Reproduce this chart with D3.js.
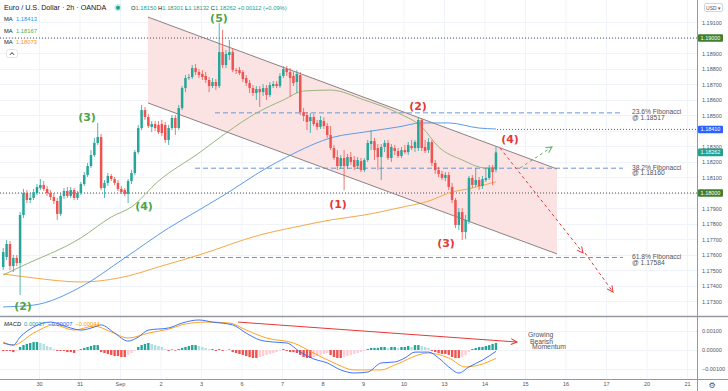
<!DOCTYPE html>
<html><head><meta charset="utf-8">
<script src="https://cdn.jsdelivr.net/npm/d3@7/dist/d3.min.js"></script>
<style>
body{margin:0;background:#fff;}
svg{display:block;font-family:"Liberation Sans",Arial,sans-serif;}
</style>
</head><body>
<svg id="chart" width="728" height="391"></svg>
<script>
// ---------------- DATA ----------------
const dayTicks  = [0,1,2,3,4,5,6,7,8,9,10,11,12,13,14,15,16];
const dayLabels = ["30","31","Sep","2","3","6","7","8","9","10","13","14","15","16","17","20","21"];
const firstBarDay = -0.8833, barsPerDay = 12;

const opens = [1.17523,1.17587,1.17671,1.17529,1.17581,1.17548,1.17858,1.18000,1.17955,1.17968,1.18000,1.18032,1.18052,1.18026,1.18000,1.17974,1.17948,1.17865,1.17981,1.18013,1.17981,1.18019,1.17968,1.18000,1.18058,1.18116,1.18174,1.18245,1.18323,1.18361,1.18032,1.18065,1.18110,1.18090,1.18065,1.18026,1.18019,1.17994,1.18077,1.18129,1.18264,1.18419,1.18535,1.18490,1.18426,1.18445,1.18439,1.18445,1.18439,1.18342,1.18419,1.18484,1.18419,1.18548,1.18677,1.18742,1.18748,1.18806,1.18780,1.18768,1.18755,1.18729,1.18690,1.18716,1.18690,1.18909,1.18826,1.18890,1.18909,1.18793,1.18793,1.18780,1.18742,1.18710,1.18677,1.18645,1.18671,1.18651,1.18677,1.18632,1.18690,1.18703,1.18690,1.18755,1.18800,1.18780,1.18755,1.18716,1.18761,1.18522,1.18503,1.18464,1.18490,1.18452,1.18426,1.18464,1.18432,1.18374,1.18290,1.18232,1.18174,1.18226,1.18174,1.18232,1.18213,1.18174,1.18206,1.18148,1.18213,1.18316,1.18335,1.18290,1.18232,1.18297,1.18323,1.18226,1.18290,1.18271,1.18239,1.18277,1.18264,1.18303,1.18290,1.18290,1.18471,1.18297,1.18277,1.18329,1.18194,1.18148,1.18123,1.18097,1.18116,1.18039,1.17955,1.17794,1.17877,1.17748,1.17819,1.18097,1.18052,1.18084,1.18045,1.18084,1.18097,1.18161,1.18150];
const highs = [1.17645,1.17697,1.17690,1.17600,1.17600,1.17877,1.18026,1.18019,1.18000,1.18026,1.18058,1.18090,1.18077,1.18045,1.18019,1.18000,1.17968,1.18000,1.18032,1.18039,1.18039,1.18032,1.18013,1.18071,1.18135,1.18194,1.18277,1.18355,1.18452,1.18381,1.18084,1.18129,1.18123,1.18103,1.18084,1.18045,1.18032,1.18090,1.18148,1.18277,1.18439,1.18568,1.18555,1.18510,1.18464,1.18464,1.18464,1.18471,1.18458,1.18439,1.18503,1.18503,1.18568,1.18690,1.18761,1.18768,1.18826,1.18832,1.18800,1.18793,1.18780,1.18748,1.18742,1.18735,1.19097,1.19051,1.18922,1.18987,1.18935,1.18806,1.18813,1.18793,1.18761,1.18729,1.18697,1.18690,1.18690,1.18703,1.18697,1.18716,1.18722,1.18722,1.18774,1.18819,1.18819,1.18806,1.18780,1.18793,1.18780,1.18548,1.18522,1.18516,1.18510,1.18471,1.18497,1.18490,1.18452,1.18432,1.18310,1.18277,1.18245,1.18277,1.18252,1.18264,1.18239,1.18232,1.18226,1.18226,1.18342,1.18406,1.18355,1.18316,1.18316,1.18342,1.18342,1.18316,1.18310,1.18290,1.18297,1.18310,1.18329,1.18342,1.18342,1.18490,1.18484,1.18342,1.18355,1.18342,1.18213,1.18168,1.18142,1.18135,1.18135,1.18065,1.17968,1.17903,1.17903,1.17858,1.18110,1.18116,1.18161,1.18103,1.18110,1.18161,1.18181,1.18181,1.18301];
const lows = [1.17503,1.17568,1.17503,1.17490,1.17529,1.17342,1.17839,1.17935,1.17935,1.17955,1.17987,1.18019,1.18013,1.17981,1.17955,1.17929,1.17826,1.17852,1.17961,1.17968,1.17968,1.17955,1.17955,1.17987,1.18045,1.18103,1.18161,1.18232,1.18310,1.18019,1.17968,1.18045,1.18077,1.18052,1.18013,1.17994,1.17981,1.17935,1.18058,1.18116,1.18252,1.18406,1.18471,1.18419,1.18393,1.18400,1.18381,1.18368,1.18323,1.18310,1.18406,1.18374,1.18406,1.18535,1.18651,1.18729,1.18735,1.18761,1.18742,1.18729,1.18710,1.18651,1.18677,1.18664,1.18677,1.18806,1.18806,1.18858,1.18780,1.18768,1.18761,1.18716,1.18690,1.18645,1.18626,1.18600,1.18555,1.18626,1.18600,1.18619,1.18677,1.18677,1.18677,1.18742,1.18755,1.18619,1.18690,1.18645,1.18503,1.18464,1.18406,1.18387,1.18432,1.18406,1.18413,1.18413,1.18355,1.18277,1.18213,1.18148,1.18155,1.18019,1.18155,1.18181,1.18148,1.18155,1.18135,1.18135,1.18200,1.18277,1.18213,1.18148,1.18084,1.18264,1.18213,1.18200,1.18245,1.18226,1.18226,1.18252,1.18245,1.18277,1.18264,1.18271,1.18271,1.18258,1.18258,1.18174,1.18123,1.18103,1.18084,1.18077,1.18019,1.17935,1.17774,1.17761,1.17697,1.17703,1.17800,1.18032,1.18039,1.18019,1.18026,1.18071,1.18084,1.18052,1.18132];
const closes = [1.17619,1.17671,1.17529,1.17581,1.17548,1.17858,1.18000,1.17955,1.17968,1.18006,1.18039,1.18052,1.18026,1.18000,1.17974,1.17948,1.17865,1.17981,1.18013,1.17981,1.18019,1.17968,1.18000,1.18058,1.18116,1.18174,1.18245,1.18323,1.18361,1.18032,1.18065,1.18110,1.18090,1.18065,1.18026,1.18006,1.17994,1.18077,1.18129,1.18264,1.18419,1.18535,1.18490,1.18432,1.18445,1.18419,1.18393,1.18387,1.18342,1.18419,1.18484,1.18419,1.18548,1.18677,1.18742,1.18748,1.18806,1.18780,1.18761,1.18748,1.18729,1.18690,1.18716,1.18690,1.18909,1.18826,1.18897,1.18909,1.18793,1.18787,1.18774,1.18735,1.18710,1.18677,1.18645,1.18671,1.18651,1.18677,1.18632,1.18697,1.18703,1.18690,1.18755,1.18800,1.18780,1.18742,1.18710,1.18768,1.18522,1.18497,1.18458,1.18490,1.18445,1.18426,1.18471,1.18432,1.18374,1.18290,1.18226,1.18174,1.18226,1.18174,1.18232,1.18200,1.18168,1.18213,1.18148,1.18213,1.18323,1.18335,1.18277,1.18232,1.18297,1.18323,1.18226,1.18297,1.18271,1.18239,1.18277,1.18264,1.18310,1.18290,1.18329,1.18471,1.18290,1.18271,1.18329,1.18194,1.18148,1.18123,1.18097,1.18116,1.18039,1.17955,1.17794,1.17877,1.17748,1.17826,1.18097,1.18052,1.18084,1.18045,1.18090,1.18097,1.18161,1.18135,1.18262];

// moving averages: [bar index, price]
const maBlue   = [[0,1.17265],[9,1.17277],[23,1.17394],[36,1.17581],[49,1.17774],[58,1.17890],[65,1.17981],[78,1.18161],[84,1.18232],[98,1.18361],[107,1.18393],[117,1.18426],[124,1.18452],[132,1.18452],[141,1.18419],[146,1.18413]];
const maGreen  = [[0,1.17471],[5,1.17523],[23,1.17710],[32,1.17845],[38,1.17910],[46,1.18077],[58,1.18258],[66,1.18387],[75,1.18516],[83,1.18600],[89,1.18658],[97,1.18664],[107,1.18600],[117,1.18516],[124,1.18426],[129,1.18297],[136,1.18213],[143,1.18161],[146,1.18167]];
const maOrange = [[0,1.17478],[9,1.17452],[23,1.17426],[37,1.17465],[46,1.17523],[58,1.17600],[76,1.17729],[88,1.17787],[97,1.17826],[107,1.17858],[117,1.17903],[127,1.17955],[132,1.18000],[139,1.18032],[146,1.18073]];

// MACD
const macdHist = [-0.00005,-0.00005,-0.00005,-0.00011,-0.00005,0.00016,0.00026,0.00032,0.00037,0.00042,0.00042,0.00037,0.00032,0.00021,0.00016,0.00005,-0.00005,-0.00005,-0.00005,-0.00011,-0.00011,-0.00016,-0.00005,0.00005,0.00011,0.00016,0.00021,0.00026,0.00026,-0.00011,-0.00016,-0.00021,-0.00026,-0.00032,-0.00032,-0.00037,-0.00037,-0.00026,-0.00016,-0.00005,0.00016,0.00026,0.00032,0.00037,0.00032,0.00026,0.00021,0.00016,0.00005,-0.00005,0.00003,-0.00003,0.00005,0.00011,0.00016,0.00021,0.00026,0.00026,0.00021,0.00016,0.00011,0.00005,0.00005,-0.00005,0.00005,-0.00005,-0.00003,0.00003,-0.00011,-0.00016,-0.00021,-0.00026,-0.00032,-0.00037,-0.00042,-0.00042,-0.00037,-0.00032,-0.00026,-0.00021,-0.00016,-0.00011,-0.00005,0.00005,-0.00005,-0.00011,-0.00011,-0.00016,-0.00026,-0.00037,-0.00042,-0.00042,-0.00037,-0.00032,-0.00026,-0.00021,-0.00016,-0.00026,-0.00037,-0.00042,-0.00042,-0.00037,-0.00032,-0.00026,-0.00021,-0.00016,-0.00011,-0.00005,0.00005,0.00011,0.00011,0.00011,0.00016,0.00016,0.00011,0.00016,0.00016,0.00011,0.00016,0.00016,0.00021,0.00016,0.00026,0.00026,0.00021,0.00016,0.00011,-0.00005,-0.00011,-0.00016,-0.00021,-0.00021,-0.00026,-0.00037,-0.00042,-0.00042,-0.00037,-0.00026,-0.00011,0.00005,0.00011,0.00016,0.00016,0.00021,0.00026,0.00032,0.00037];
const macdLine = [[0,0.00037],[3,0.00026],[5,0.00068],[9,0.00121],[14,0.00147],[19,0.00121],[23,0.00105],[27,0.00121],[29,0.00132],[33,0.00089],[37,0.00047],[40,0.00068],[43,0.00105],[49,0.00116],[53,0.00142],[58,0.00158],[62,0.00147],[68,0.00132],[72,0.00089],[76,0.00053],[80,0.00042],[84,0.00037],[88,-0.00011],[92,-0.00047],[96,-0.00068],[100,-0.00105],[104,-0.00121],[108,-0.00116],[112,-0.00068],[116,-0.00063],[119,-0.00042],[122,-0.00011],[126,-0.00011],[129,-0.00042],[132,-0.00089],[135,-0.00121],[138,-0.00089],[142,-0.00053],[146,-0.00007]];
const signalLine = [[0,0.00042],[3,0.00026],[9,0.00089],[15,0.00132],[21,0.00105],[27,0.00126],[32,0.00095],[37,0.00063],[43,0.00089],[49,0.00110],[54,0.00137],[60,0.00147],[67,0.00142],[72,0.00105],[78,0.00063],[86,0.00037],[92,-0.00016],[98,-0.00068],[104,-0.00105],[112,-0.00105],[116,-0.00079],[126,-0.00016],[132,-0.00042],[137,-0.00089],[141,-0.00079],[146,-0.00044]];

const priceTicks = [1.173,1.174,1.175,1.176,1.177,1.178,1.179,1.18,1.181,1.182,1.183,1.184,1.185,1.186,1.187,1.188,1.189,1.19,1.191];
const macdTicks = [-0.001,0,0.001];

// annotations (day index, price)
const channelUpper = [[2.691,1.19135],[12.79,1.18155]];
const channelLower = [[2.691,1.18581],[12.79,1.17607]];
const fibLevels = [
  {name:"23.6% Fibonacci", value:1.18517, from:4.346},
  {name:"38.2% Fibonacci", value:1.18160, from:3.852},
  {name:"61.8% Fibonacci", value:1.17584, from:0.321}
];
const fibEnd = 14.42, fibLabelDay = 14.64;
const keyLevels = [1.19, 1.18];
const resistLevel = {value:1.18410, from:11.309};
const waveLabels = [
  {t:"(2)", d:-0.395, p:1.17265, kind:"g"},
  {t:"(3)", d:1.185,  p:1.18490, kind:"g"},
  {t:"(4)", d:2.593,  p:1.17910, kind:"g"},
  {t:"(5)", d:4.444,  p:1.19124, kind:"g"},
  {t:"(1)", d:7.383,  p:1.17923, kind:"r"},
  {t:"(2)", d:9.358,  p:1.18555, kind:"r"},
  {t:"(3)", d:10.049, p:1.17671, kind:"r"},
  {t:"(4)", d:11.630, p:1.18348, kind:"r"}
];
const bearArrows = [[[11.383,1.18290],[13.432,1.17613]],[[13.481,1.17613],[14.173,1.17361]]];
const bullArrow = [[11.877,1.18161],[12.667,1.18297]];
const macdTrend = [[4.914,0.00147],[11.802,0.00042]];
const momentumText = [["Growing",12.074,0.00079],["Bearish",12.123,0.00047],["Momentum",12.173,0.00016]];
const priceTags = [
  {v:1.19000, c:"#3f7f2e"},
  {v:1.18410, c:"#2962ff"},
  {v:1.18262, c:"#22a090"},
  {v:1.18000, c:"#3f7f2e"}
];
const legendOHLC = [["O","1.18150"],["H","1.18301"],["L","1.18132"],["C","1.18262"],["","+0.00112 (+0.09%)"]];
const maLegend = [["1.18413","#2196f3"],["1.18167","#4caf50"],["1.18073","#ff9800"]];
const macdLegend = [["0.00037","#22a090"],["\u22120.00007","#2962ff"],["\u22120.00044","#ff9800"]];

// ---------------- LAYOUT ----------------
const plotR = 697, mainB = 316, macdT = 317, macdB = 379;
const svg = d3.select("#chart");
const x = d3.scaleLinear().domain([0,16]).range([39,687]);
const bx = i => x(firstBarDay + i/barsPerDay);
const y = d3.scaleLinear().domain([1.18,1.19]).range([193,38]);
const ym = d3.scaleLinear().domain([-0.001,0.001]).range([369,331]);
const UP="#26a69a", DN="#ef5350";

const defs = svg.append("defs");
defs.append("clipPath").attr("id","cm").append("rect").attr("x",0).attr("y",0).attr("width",plotR).attr("height",mainB);
defs.append("clipPath").attr("id","cd").append("rect").attr("x",0).attr("y",macdT).attr("width",plotR).attr("height",macdB-macdT);
function marker(id,color){
  defs.append("marker").attr("id",id).attr("viewBox","0 0 8 8").attr("refX",7).attr("refY",4)
    .attr("markerWidth",8).attr("markerHeight",8).attr("markerUnits","userSpaceOnUse").attr("orient","auto")
    .append("path").attr("d","M1,1 L7,4 L1,7").attr("fill","none").attr("stroke",color).attr("stroke-width",1);
}
marker("ar","#e53935"); marker("ag","#5cb85c"); marker("am","#e53935");

// grid
const grid = svg.append("g");
grid.selectAll(".vg").data(dayTicks).join("line")
  .attr("x1",d=>x(d)+0.5).attr("x2",d=>x(d)+0.5).attr("y1",0).attr("y2",macdB)
  .attr("stroke","#f0f3fa").attr("stroke-width",1);
grid.selectAll(".hg").data(priceTicks).join("line")
  .attr("x1",0).attr("x2",plotR).attr("y1",d=>Math.round(y(d))+0.5).attr("y2",d=>Math.round(y(d))+0.5)
  .attr("stroke","#f0f3fa");
grid.selectAll(".mg").data(macdTicks).join("line")
  .attr("x1",0).attr("x2",plotR).attr("y1",d=>Math.round(ym(d))+0.5).attr("y2",d=>Math.round(ym(d))+0.5)
  .attr("stroke","#f0f3fa");

// main panel
const main = svg.append("g").attr("clip-path","url(#cm)");
const chPoly = channelUpper.concat(channelLower.slice().reverse());
main.append("path").attr("d", d3.line().x(d=>x(d[0])).y(d=>y(d[1]))(chPoly)+"Z").attr("fill","#fce3e3");

// key dotted levels
main.selectAll(".kl").data(keyLevels).join("line")
  .attr("x1",0).attr("x2",plotR).attr("y1",d=>y(d)).attr("y2",d=>y(d))
  .attr("stroke","#50535e").attr("stroke-width",1).attr("stroke-dasharray","1,2");
main.append("line").attr("x1",x(resistLevel.from)).attr("x2",plotR)
  .attr("y1",y(resistLevel.value)).attr("y2",y(resistLevel.value))
  .attr("stroke","#2962ff").attr("stroke-width",1).attr("stroke-dasharray","1,2");

// fib levels
main.selectAll(".fl").data(fibLevels).join("line")
  .attr("x1",d=>x(d.from)).attr("x2",x(fibEnd)).attr("y1",d=>y(d.value)).attr("y2",d=>y(d.value))
  .attr("stroke","#6b96d6").attr("stroke-width",1).attr("stroke-dasharray","5,3");

// MAs
const maLine = d3.line().x(d=>bx(d[0])).y(d=>y(d[1])).curve(d3.curveMonotoneX);
main.append("path").attr("d",maLine(maOrange)).attr("fill","none").attr("stroke","#f5a847").attr("stroke-width",1);
main.append("path").attr("d",maLine(maBlue)).attr("fill","none").attr("stroke","#5b9be8").attr("stroke-width",1);
main.append("path").attr("d",maLine(maGreen)).attr("fill","none").attr("stroke","#98b47c").attr("stroke-width",1);

// channel lines
[channelUpper,channelLower].forEach(c=>{
  main.append("line").attr("x1",x(c[0][0])).attr("y1",y(c[0][1])).attr("x2",x(c[1][0])).attr("y2",y(c[1][1]))
    .attr("stroke","#8d8182").attr("stroke-width",1);
});

// candles
const idx = d3.range(opens.length);
const cg = main.append("g");
cg.selectAll(".w").data(idx).join("line")
  .attr("x1",i=>bx(i)).attr("x2",i=>bx(i)).attr("y1",i=>y(highs[i])).attr("y2",i=>y(lows[i]))
  .attr("stroke",i=>closes[i]>=opens[i]?UP:DN).attr("stroke-width",0.8);
cg.selectAll(".b").data(idx).join("rect")
  .attr("x",i=>bx(i)-1.25).attr("width",2.5)
  .attr("y",i=>y(Math.max(opens[i],closes[i])))
  .attr("height",i=>Math.max(0.8,Math.abs(y(opens[i])-y(closes[i]))))
  .attr("fill",i=>closes[i]>=opens[i]?UP:DN);

// arrows
bearArrows.forEach(a=>{
  main.append("line").attr("x1",x(a[0][0])).attr("y1",y(a[0][1])).attr("x2",x(a[1][0])).attr("y2",y(a[1][1]))
    .attr("stroke","#e53935").attr("stroke-width",1).attr("stroke-dasharray","3,3").attr("marker-end","url(#ar)");
});
main.append("line").attr("x1",x(bullArrow[0][0])).attr("y1",y(bullArrow[0][1])).attr("x2",x(bullArrow[1][0])).attr("y2",y(bullArrow[1][1]))
  .attr("stroke","#5cb85c").attr("stroke-width",1).attr("stroke-dasharray","3,3").attr("marker-end","url(#ag)");

// wave labels
main.selectAll(".wl").data(waveLabels).join("text")
  .attr("x",d=>x(d.d)).attr("y",d=>y(d.p)).attr("text-anchor","middle").attr("dominant-baseline","central")
  .attr("font-family","'DejaVu Sans',sans-serif").attr("font-weight","bold").attr("font-size",11)
  .attr("fill",d=>d.kind==="g"?"#4ea446":"#e53935").text(d=>d.t);

// fib labels
const fl = svg.selectAll(".ft").data(fibLevels).join("text")
  .attr("x",x(fibLabelDay)).attr("y",d=>y(d.value)+1.3)
  .attr("font-size",6.7).attr("fill","#50535e");
fl.append("tspan").text(d=>d.name);
fl.append("tspan").attr("x",x(fibLabelDay)).attr("dy",5.8).text(d=>"@ "+d.value.toFixed(5));

// MACD panel
const mp = svg.append("g").attr("clip-path","url(#cd)");
mp.selectAll(".h").data(idx).join("rect")
  .attr("x",i=>bx(i)-1.2).attr("width",2.4)
  .attr("y",i=>Math.min(ym(macdHist[i]),ym(0)))
  .attr("height",i=>Math.max(0.6,Math.abs(ym(macdHist[i])-ym(0))))
  .attr("fill",i=>{
    const v=macdHist[i], p=i>0?macdHist[i-1]:v;
    if(v>=0) return v>=p?"#26a69a":"#b2dfdb";
    return v<=p?"#ef5350":"#ffcdd2";
  });
const ml = d3.line().x(d=>bx(d[0])).y(d=>ym(d[1])).curve(d3.curveMonotoneX);
mp.append("path").attr("d",ml(signalLine)).attr("fill","none").attr("stroke","#ff9800").attr("stroke-width",0.9);
mp.append("path").attr("d",ml(macdLine)).attr("fill","none").attr("stroke","#2962ff").attr("stroke-width",0.9);
mp.append("line").attr("x1",x(macdTrend[0][0])).attr("y1",ym(macdTrend[0][1])).attr("x2",x(macdTrend[1][0])).attr("y2",ym(macdTrend[1][1]))
  .attr("stroke","#e53935").attr("stroke-width",1).attr("marker-end","url(#am)");
mp.selectAll(".mt").data(momentumText).join("text")
  .attr("x",d=>x(d[1])).attr("y",d=>ym(d[2])).attr("dominant-baseline","central")
  .attr("font-size",6.8).attr("fill","#50535e").text(d=>d[0]);

// panel borders
svg.append("line").attr("x1",0).attr("x2",728).attr("y1",316.5).attr("y2",316.5).attr("stroke","#9598a1").attr("stroke-width",1.5);
svg.append("line").attr("x1",plotR+0.5).attr("x2",plotR+0.5).attr("y1",0).attr("y2",391).attr("stroke","#9598a1");
svg.append("line").attr("x1",0).attr("x2",728).attr("y1",macdB+0.5).attr("y2",macdB+0.5).attr("stroke","#9598a1");

// right price axis
const skip = new Set([1.19,1.18,1.184]);
const ra = svg.append("g").attr("transform",`translate(${plotR},0)`)
  .call(d3.axisRight(y).tickValues(priceTicks.filter(t=>!skip.has(t))).tickFormat(d3.format(".5f")).tickSize(0).tickPadding(5));
ra.select(".domain").remove();
ra.selectAll("text").attr("font-size",5.5).attr("fill","#50535e").attr("font-family","'Liberation Sans',Arial,sans-serif");
const ma = svg.append("g").attr("transform",`translate(${plotR},0)`)
  .call(d3.axisRight(ym).tickValues(macdTicks).tickFormat(d=>d3.format(".5f")(d).replace("-","\u2212")).tickSize(0).tickPadding(5));
ma.select(".domain").remove();
ma.selectAll("text").attr("font-size",5.5).attr("fill","#50535e").attr("font-family","'Liberation Sans',Arial,sans-serif");

// price tags
const tg = svg.selectAll(".tag").data(priceTags).join("g").attr("transform",d=>`translate(${plotR+1},${y(d.v)})`);
tg.append("rect").attr("x",0).attr("y",-3.8).attr("width",25).attr("height",7.6).attr("rx",1).attr("fill",d=>d.c);
tg.append("text").attr("x",12.5).attr("y",0).attr("text-anchor","middle").attr("dominant-baseline","central")
  .attr("font-size",5.5).attr("fill","#fff").text(d=>d.v.toFixed(5));

// bottom axis
const ba = svg.append("g").attr("transform",`translate(0,${macdB})`)
  .call(d3.axisBottom(x).tickValues(dayTicks).tickFormat((d,i)=>dayLabels[i]).tickSize(0).tickPadding(3));
ba.select(".domain").remove();
ba.selectAll("text").attr("font-size",5.5).attr("fill","#50535e").attr("font-family","'Liberation Sans',Arial,sans-serif");

// USD box & gear
svg.append("rect").attr("x",704.5).attr("y",3.5).attr("width",18).attr("height",8).attr("rx",1.5).attr("fill","#fff").attr("stroke","#d1d4dc");
svg.append("text").attr("x",713.5).attr("y",7.8).attr("text-anchor","middle").attr("dominant-baseline","central").attr("font-size",5).attr("fill","#50535e").text("USD \u25BE");
svg.append("text").attr("x",712).attr("y",385).attr("text-anchor","middle").attr("dominant-baseline","central").attr("font-family","'DejaVu Sans',sans-serif").attr("font-size",8).attr("fill","#50535e").text("\u2699");

// legend
svg.append("text").attr("x",4).attr("y",10.2).attr("font-size",7.2).attr("fill","#131722").text("Euro / U.S. Dollar \u00B7 2h \u00B7 OANDA");
svg.append("circle").attr("cx",118).attr("cy",7.7).attr("r",3.6).attr("fill","#c8ece7");
svg.append("circle").attr("cx",118).attr("cy",7.7).attr("r",2).attr("fill","#22a090");
const ohlc = svg.append("text").attr("x",131).attr("y",9.8).attr("font-size",5.8);
legendOHLC.forEach((p,k)=>{
  if(k>0) ohlc.append("tspan").attr("fill","#131722").text(" ");
  if(p[0]) ohlc.append("tspan").attr("fill","#131722").text(p[0]);
  ohlc.append("tspan").attr("fill","#22a090").text(p[1]);
});
maLegend.forEach((m,k)=>{
  const t = svg.append("text").attr("x",4).attr("y",21+k*11.5).attr("font-size",5.8);
  t.append("tspan").attr("fill","#131722").text("MA ");
  t.append("tspan").attr("fill",m[1]).attr("dx",2).text(m[0]);
});
svg.append("rect").attr("x",6.5).attr("y",49.5).attr("width",11).attr("height",8).attr("rx",2).attr("fill","#fff").attr("stroke","#e0e3eb");
svg.append("path").attr("d","M10,54.8 L12,52.6 L14,54.8").attr("fill","none").attr("stroke","#131722").attr("stroke-width",0.9);
const ml2 = svg.append("text").attr("x",4).attr("y",326).attr("font-size",5.8);
ml2.append("tspan").attr("fill","#131722").attr("font-style","italic").text("MACD");
macdLegend.forEach(m=>ml2.append("tspan").attr("dx",3).attr("fill",m[1]).text(m[0]));
</script>
</body></html>
